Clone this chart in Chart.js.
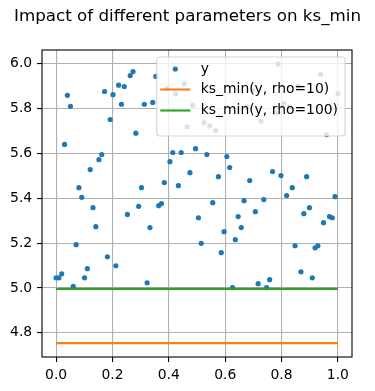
<!DOCTYPE html>
<html lang="en">
<head>
<meta charset="UTF-8">
<title>Impact of different parameters on ks_min</title>
<script src="https://cdn.jsdelivr.net/npm/chart.js"></script>
<style>
    body { margin: 0; background: #fff; }
    canvas { display: block; }
</style>
</head>
<body>
<canvas id="ksChart" width="375" height="391"></canvas>
<script>
// sample positions (0..1, 100 samples)
const xs = [
    0, .010, .020, .030, .040, .051, .061, .071, .081, .091,
    .101, .111, .121, .131, .141, .152, .162, .172, .182, .192,
    .202, .212, .222, .232, .242, .253, .263, .273, .283, .293,
    .303, .313, .323, .333, .343, .354, .364, .374, .384, .394,
    .404, .414, .424, .434, .444, .455, .465, .475, .485, .495,
    .505, .515, .525, .535, .545, .556, .566, .576, .586, .596,
    .606, .616, .626, .636, .646, .657, .667, .677, .687, .697,
    .707, .717, .727, .737, .747, .758, .768, .778, .788, .798,
    .808, .818, .828, .838, .848, .859, .869, .879, .889, .899,
    .909, .919, .929, .939, .949, .960, .970, .980, .990, 1.0
];
// y values
const ys = [
    5.045, 5.045, 5.063, 5.64, 5.859, 5.81, 5.007, 5.193, 5.447, 5.404,
    5.045, 5.086, 5.528, 5.358, 5.273, 5.572, 5.595, 5.876, 5.139, 5.751,
    5.862, 5.099, 5.904, 5.819, 5.898, 5.328, 5.947, 5.965, 5.69, 5.364,
    5.447, 5.819, 5.023, 5.269, 5.827, 5.943, 5.367, 5.376, 5.47, 5.889,
    5.563, 5.604, 5.865, 5.456, 5.604, 5.911, 5.718, 5.514, 5.815, 5.621,
    5.313, 5.199, 5.737, 5.595, 5.723, 5.38, 5.702, 5.496, 5.157, 5.251,
    5.586, 5.537, 5.001, 5.215, 5.318, 5.269, 5.389, 5.807, 5.479, 5.88,
    5.34, 5.019, 5.743, 5.394, 5.001, 5.037, 5.519, 5.78, 5.999, 5.501,
    5.822, 5.412, 5.807, 5.447, 5.188, 5.9, 5.072, 5.331, 5.496, 5.358,
    5.045, 5.179, 5.188, 5.952, 5.291, 5.684, 5.318, 5.313, 5.407, 5.867
];
// ks_min results (constant over x)
const lineXs = [0, 1];
const ksRho10 = [4.754, 4.754];
const ksRho100 = [4.996, 4.996];

const xTicks = [0, 0.2, 0.4, 0.6, 0.8, 1.0];
const yTicks = [4.8, 5.0, 5.2, 5.4, 5.6, 5.8, 6.0];

const TITLE = 'Impact of different parameters on ks_min';
const FONT = '"DejaVu Sans", sans-serif';

// figure title (centred on the whole canvas), frame and legend box
const frameLegend = {
    id: 'frameLegend',
    afterDraw(chart) {
        const ctx = chart.ctx;
        const a = chart.chartArea;
        ctx.save();
        ctx.fillStyle = '#000';
        ctx.font = '16.7px ' + FONT;
        ctx.textAlign = 'center';
        ctx.textBaseline = 'alphabetic';
        ctx.fillText(TITLE, chart.width / 2, 21);
        ctx.textAlign = 'left';

        ctx.strokeStyle = '#000';
        ctx.lineWidth = 1.1;
        ctx.strokeRect(a.left, a.top, a.right - a.left, a.bottom - a.top);

        ctx.font = '13.9px ' + FONT;
        const sets = chart.data.datasets;
        let tw = 0;
        sets.forEach(d => { tw = Math.max(tw, ctx.measureText(d.label).width); });
        const w = 44 + tw + 7, h = 79;
        const bx = a.right - 7 - w, by = a.top + 7;
        ctx.beginPath();
        ctx.roundRect(bx, by, w, h, 3);
        ctx.fillStyle = 'rgba(255,255,255,0.8)';
        ctx.fill();
        ctx.strokeStyle = 'rgba(204,204,204,0.8)';
        ctx.stroke();

        const rows = [by + 12, by + 32.5, by + 53.5];
        sets.forEach((d, i) => {
            const cy = rows[i];
            if (d.type === 'line') {
                ctx.strokeStyle = d.borderColor;
                ctx.lineWidth = 2.1;
                ctx.beginPath();
                ctx.moveTo(bx + 3.5, cy);
                ctx.lineTo(bx + 33.5, cy);
                ctx.stroke();
            } else {
                ctx.fillStyle = d.backgroundColor;
                ctx.beginPath();
                ctx.arc(bx + 18.5, cy, 2.6, 0, Math.PI * 2);
                ctx.fill();
            }
            ctx.fillStyle = '#000';
            ctx.textBaseline = 'middle';
            ctx.fillText(d.label, bx + 44, cy);
        });
        ctx.restore();
    }
};

const tickFont = { family: FONT, size: 13.9 };

new Chart(document.getElementById('ksChart'), {
    type: 'scatter',
    data: {
        datasets: [
            {
                label: 'y',
                data: xs.map((x, i) => ({ x: x, y: ys[i] })),
                backgroundColor: '#1f77b4',
                borderColor: '#1f77b4',
                pointRadius: 2.6,
                pointBorderWidth: 0,
                order: 3
            },
            {
                label: 'ks_min(y, rho=10)',
                type: 'line',
                data: lineXs.map((x, i) => ({ x: x, y: ksRho10[i] })),
                borderColor: '#ff7f0e',
                backgroundColor: '#ff7f0e',
                borderWidth: 2.1,
                pointRadius: 0,
                fill: false,
                order: 2
            },
            {
                label: 'ks_min(y, rho=100)',
                type: 'line',
                data: lineXs.map((x, i) => ({ x: x, y: ksRho100[i] })),
                borderColor: '#2ca02c',
                backgroundColor: '#2ca02c',
                borderWidth: 2.1,
                pointRadius: 0,
                fill: false,
                order: 1
            }
        ]
    },
    options: {
        responsive: false,
        devicePixelRatio: 1,
        animation: false,
        layout: { padding: { left: 0, right: 23, top: 50, bottom: 0 } },
        plugins: {
            legend: { display: false },
            tooltip: { enabled: false },
            title: { display: false }
        },
        scales: {
            x: {
                type: 'linear',
                min: -0.05,
                max: 1.05,
                afterBuildTicks: s => { s.ticks = xTicks.map(v => ({ value: v })); },
                afterFit: s => { s.height = 34; },
                ticks: {
                    callback: v => v.toFixed(1),
                    color: '#000',
                    font: tickFont,
                    padding: 4.9,
                    maxRotation: 0,
                    autoSkip: false
                },
                grid: { color: '#b0b0b0', lineWidth: 1.1, tickColor: '#000', tickLength: 4.9 },
                border: { display: false }
            },
            y: {
                type: 'linear',
                min: 4.692,
                max: 6.061,
                afterBuildTicks: s => { s.ticks = yTicks.map(v => ({ value: v })); },
                afterFit: s => { s.width = 42; },
                ticks: {
                    callback: v => v.toFixed(1),
                    color: '#000',
                    font: tickFont,
                    padding: 4.9,
                    autoSkip: false
                },
                grid: { color: '#b0b0b0', lineWidth: 1.1, tickColor: '#000', tickLength: 4.9 },
                border: { display: false }
            }
        }
    },
    plugins: [frameLegend]
});
</script>
</body>
</html>
